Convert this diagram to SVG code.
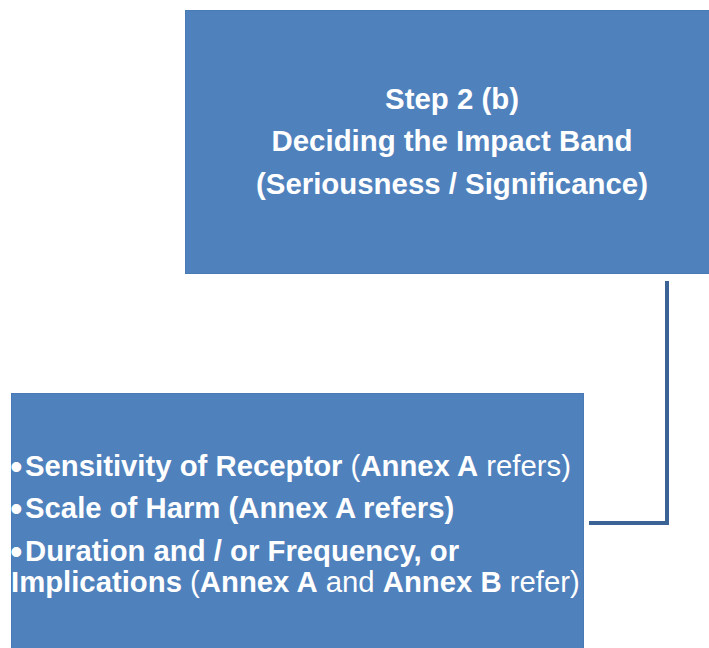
<svg xmlns="http://www.w3.org/2000/svg" width="709" height="648" viewBox="0 0 709 648">
<style>
.box{fill:#4f81bd;stroke:#4a7ab5;stroke-width:1}
.t{font-family:"Liberation Sans",Arial,sans-serif;fill:#fff}
.top{font-size:29.4px}
.bot{font-size:29.3px}
.b{font-weight:bold}
.n{font-weight:normal}
.bul{font-weight:normal;font-size:36px}
.conn{fill:none;stroke:#3b6396;stroke-width:4}
</style>
<rect width="709" height="648" fill="#fff"/>
<g id="connectors">
<polyline class="conn" points="667,281 667,523 589,523"/>
</g>
<g id="node-step2b">
<rect class="box" x="185.5" y="10.5" width="530" height="263"/>
<text class="t top b" text-anchor="middle" x="452" y="109">Step 2 (b)</text>
<text class="t top b" text-anchor="middle" x="452" y="151">Deciding the Impact Band</text>
<text class="t top b" text-anchor="middle" x="452" y="194">(Seriousness / Significance)</text>
</g>
<g id="node-factors">
<rect class="box" x="11.5" y="393.5" width="572" height="260"/>
<text class="t bot" x="10" y="476"><tspan class="bul" dy="3">•</tspan><tspan class="b" x="25" dy="-3">Sensitivity of Receptor </tspan><tspan class="n">(</tspan><tspan class="b">Annex A</tspan><tspan class="n"> refers)</tspan></text>
<text class="t bot" x="10" y="518"><tspan class="bul" dy="3">•</tspan><tspan class="b" x="25" dy="-3">Scale of Harm (Annex A refers)</tspan></text>
<text class="t bot" x="10" y="561"><tspan class="bul" dy="3">•</tspan><tspan class="b" x="25" dy="-3">Duration and / or Frequency, or</tspan></text>
<text class="t bot" x="11" y="592"><tspan class="b">Implications </tspan><tspan class="n">(</tspan><tspan class="b">Annex A</tspan><tspan class="n"> and </tspan><tspan class="b">Annex B</tspan><tspan class="n"> refer)</tspan></text>
</g>
</svg>
